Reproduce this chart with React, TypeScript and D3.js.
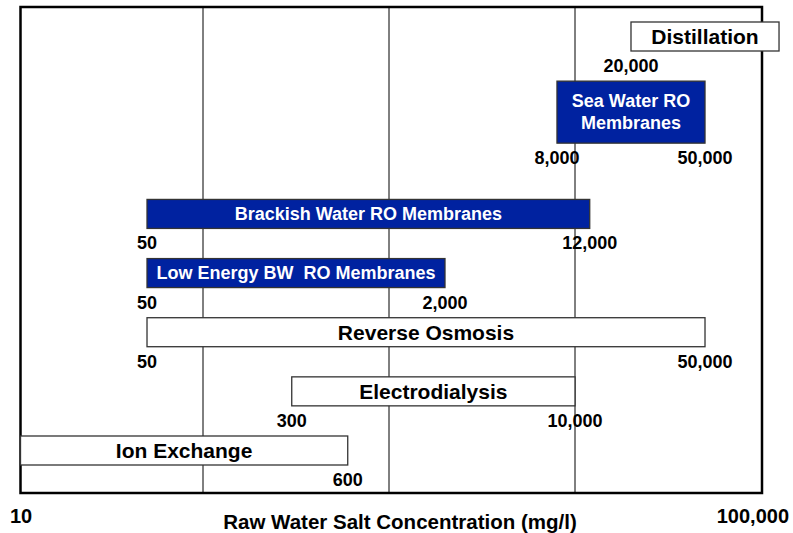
import * as d3 from 'd3';
import React from 'react';

// Desalination process ranges vs raw water salt concentration (mg/l)
const processes = [
  'Distillation',
  'Sea Water RO\nMembranes',
  'Brackish Water RO Membranes',
  'Low Energy BW  RO Membranes',
  'Reverse Osmosis',
  'Electrodialysis',
  'Ion Exchange',
];
const kinds = ['process', 'membrane', 'membrane', 'membrane', 'process', 'process', 'process'];
// row slot of each process (slot 2 left empty under the sea water box)
const rowSlots = [0, 1, 3, 4, 5, 6, 7];
const lowLimits = [20000, 8000, 50, 50, 50, 300, 10];
const highLimits = [125000, 50000, 12000, 2000, 50000, 10000, 600];
const lowLabels = [20000, 8000, 50, 50, 50, 300, null];
const highLabels = [null, 50000, 12000, 2000, 50000, 10000, 600];
const gridTicks = [100, 1000, 10000];
const axisEnds = [10, 100000];

const W = 793;
const H = 533;
const frame = { left: 20.5, right: 762, top: 7, bottom: 493 };
const font = '"Liberation Sans", Arial, Helvetica, sans-serif';
const blue = '#0022a0';
const fmt = d3.format(',');

export default function App() {
  const x = d3.scaleLog().domain([10, 100000]).range([17, 761]);
  const y = d3.scaleLinear().domain([0, 7]).range([22, 436]);
  const barH = 29;
  const lineStep = 33;

  const rows = processes.map((name, i) => {
    const lines = name.split('\n');
    const h = barH + lineStep * (lines.length - 1);
    const x0 = Math.max(x(lowLimits[i]), frame.left);
    const x1 = x(highLimits[i]);
    return { name, lines, h, x0, x1, top: y(rowSlots[i]), kind: kinds[i], i };
  });

  return (
    <svg width={W} height={H} style={{ position: 'absolute', left: 0, top: 0, background: '#fff' }}
      fontFamily={font} fontWeight="bold">
      {/* grid lines */}
      {gridTicks.map(t => (
        <line key={t} x1={x(t)} x2={x(t)} y1={frame.top} y2={frame.bottom} stroke="#000" strokeWidth={1} />
      ))}
      {/* frame */}
      <rect x={frame.left} y={frame.top} width={frame.right - frame.left} height={frame.bottom - frame.top}
        fill="none" stroke="#000" strokeWidth={2.5} />

      {rows.map(r => {
        const membrane = r.kind === 'membrane';
        const fs = membrane ? 18 : 21;
        const cx = (r.x0 + r.x1) / 2;
        const cy = r.top + r.h / 2;
        const lo = lowLabels[r.i];
        const hi = highLabels[r.i];
        const labelY = r.top + r.h + 21;
        return (
          <g key={r.name}>
            <rect x={r.x0} y={r.top} width={r.x1 - r.x0} height={r.h}
              fill={membrane ? blue : '#fff'} stroke="#333" strokeWidth={1.3} />
            <text x={cx} textAnchor="middle" fontSize={fs} fill={membrane ? '#fff' : '#000'}
              style={{ whiteSpace: 'pre' }}>
              {r.lines.map((l, k) => (
                <tspan key={k} x={cx} y={cy + fs * 0.35 + (k - (r.lines.length - 1) / 2) * 22}>{l}</tspan>
              ))}
            </text>
            {lo != null && (
              <text x={x(lo)} y={labelY} textAnchor="middle" fontSize={18}>{fmt(lo)}</text>
            )}
            {hi != null && (
              <text x={x(hi)} y={labelY} textAnchor="middle" fontSize={18}>{fmt(hi)}</text>
            )}
          </g>
        );
      })}

      {/* axis labels */}
      <text x={x(axisEnds[0]) - 7} y={523} fontSize={20}>{fmt(axisEnds[0])}</text>
      <text x={x(axisEnds[1]) + 28} y={523} fontSize={20} textAnchor="end">{fmt(axisEnds[1])}</text>
      <text x={400} y={529} fontSize={20.5} textAnchor="middle">Raw Water Salt Concentration (mg/l)</text>
    </svg>
  );
}
